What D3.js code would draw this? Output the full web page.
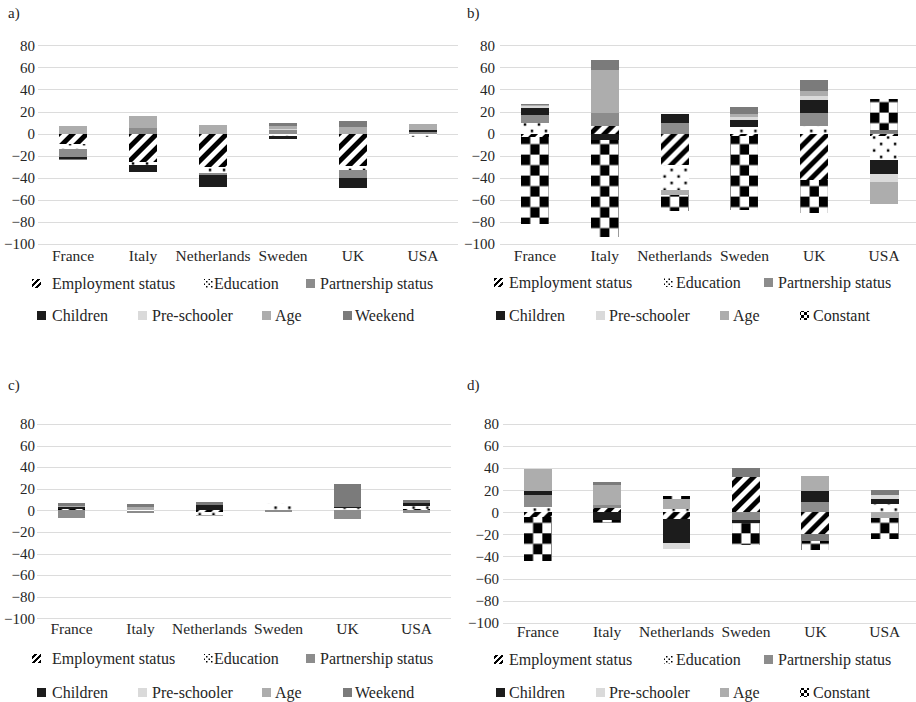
<!DOCTYPE html>
<html>
<head>
<meta charset="utf-8">
<script src="https://cdn.jsdelivr.net/npm/d3@7"></script>
<style>
  body { margin: 0; background: #fff; }
  svg text { font-family: "Liberation Serif", "Tinos", "Times New Roman", "DejaVu Serif", serif; fill: #262626; }
</style>
</head>
<body>
<script>
// categories and ticks
const countries = ["France", "Italy", "Netherlands", "Sweden", "UK", "USA"];
const yTicks = [80, 60, 40, 20, 0, -20, -40, -60, -80, -100];
const legendWeekend = ["Employment status", "Education", "Partnership status", "Children", "Pre-schooler", "Age", "Weekend"];
const legendConstant = ["Employment status", "Education", "Partnership status", "Children", "Pre-schooler", "Age", "Constant"];

// a)
const aEmployment  = [-9, -26, -30, 0, -29, 0];
const aEducation   = [-5, -2.5, -5.5, -2, -4, -3.5];
const aPartnership = [-7, 5.5, -2, 3, -7, 1.5];
const aChildren    = [-2, -6.5, -11, -3, -9, 1.5];
const aPreschooler = [0, 0, 0, 1, 0, 0];
const aAge         = [7, 10.5, 7.6, 3, 6, 6];
const aWeekend     = [-1, 0, 0, 3, 5, 0];

// b)
const bEmployment  = [-3, 7, -28, -2, -42, -2];
const bEducation   = [10, 0, -23, 6, 7, -22];
const bPartnership = [7, 12, 10, 0, 12, 1];
const bChildren    = [6, -6, 8, 6, 11, -13];
const bPreschooler = [2, 0, 0, 3, 4, -7];
const bAge         = [1, 39, -5, 3, 5, -20];
const bWeekend     = [1, 9, 0, 6, 10, 2];
const bConstant    = [-79, -88, -14, -67, -30, 28];

// c)
const cEmployment  = [1, 0, -1.5, 0, 0, 1];
const cEducation   = [0, -1, -3, 6.5, 2, 2.7];
const cPartnership = [-7, -1, 0, -1.5, -8, -2];
const cChildren    = [2, 0, 4.5, 0, 1.5, 3];
const cPreschooler = [0, 0, 0, 0.5, 0, 0];
const cAge         = [1, 3, -1, 0, 0, 0];
const cWeekend     = [3, 2.5, 3.5, 0, 21, 2.5];

// d)
const dEmployment  = [-4, 3.5, -6, 32, -20, 0];
const dEducation   = [4.5, 0, 3, 0, 0, 7.5];
const dPartnership = [11, 3, 0, -7, 9, 0];
const dChildren    = [4, -7, -22, -3, 10, 5];
const dPreschooler = [0, 0, -5, 0, 0, 3];
const dAge         = [20, 18, 9, 0, 14, -5];
const dWeekend     = [0, 3, 0, 8, -6, 4.5];
const dConstant    = [-40, -3, 2.5, -20, -8, -19];

const keys = ["emp", "edu", "part", "child", "pre", "age", "wk", "const"];
const solid = { part: "#8c8c8c", child: "#1c1c1c", pre: "#dadada", age: "#adadad", wk: "#7b7b7b" };
const legendFills = {
  emp: "url(#stripesSm)", edu: "url(#dotsSm)", part: "#8c8c8c", child: "#1c1c1c",
  pre: "#dadada", age: "#adadad", wk: "#7b7b7b", const: "url(#checkerSm)"
};
const serif = '"Liberation Serif", "Tinos", "Times New Roman", "DejaVu Serif", serif';

const panels = [
  { tag: "a)", tx: 8, ty: 18, x0: 38, x1: 458, yb: 244, yt: 45.3, tickPad: 3, catPad: 6,
    cols: { emp: aEmployment, edu: aEducation, part: aPartnership, child: aChildren, pre: aPreschooler, age: aAge, wk: aWeekend },
    legend: legendWeekend, legendKeys: ["emp", "edu", "part", "child", "pre", "age", "wk"],
    ox: 0, rows: [283, 315], textX: [52, 214, 320, 52, 152, 275, 355], swX: [32, 204, 306, 37, 138, 262, 343] },
  { tag: "b)", tx: 467, ty: 18, x0: 500, x1: 919, yb: 244, yt: 45.3, tickPad: 5, catPad: 6,
    cols: { emp: bEmployment, edu: bEducation, part: bPartnership, child: bChildren, pre: bPreschooler, age: bAge, wk: bWeekend, const: bConstant },
    legend: legendConstant, legendKeys: ["emp", "edu", "part", "child", "pre", "age", "const"],
    ox: 460, rows: [282, 315], textX: [49, 216, 318, 49, 149, 273, 353], swX: [34, 204, 304, 36, 136, 260, 340] },
  { tag: "c)", tx: 8, ty: 390, x0: 37, x1: 451, yb: 618.3, yt: 424, tickPad: 2, catPad: 5,
    cols: { emp: cEmployment, edu: cEducation, part: cPartnership, child: cChildren, pre: cPreschooler, age: cAge, wk: cWeekend },
    legend: legendWeekend, legendKeys: ["emp", "edu", "part", "child", "pre", "age", "wk"],
    ox: 0, rows: [658, 692], textX: [52, 214, 320, 52, 152, 275, 355], swX: [32, 204, 306, 37, 138, 262, 343] },
  { tag: "d)", tx: 467, ty: 390, x0: 503, x1: 919.5, yb: 622.7, yt: 424, tickPad: 4, catPad: 3.5,
    cols: { emp: dEmployment, edu: dEducation, part: dPartnership, child: dChildren, pre: dPreschooler, age: dAge, wk: dWeekend, const: dConstant },
    legend: legendConstant, legendKeys: ["emp", "edu", "part", "child", "pre", "age", "const"],
    ox: 460, rows: [659, 692], textX: [49, 216, 318, 49, 149, 273, 353], swX: [34, 204, 304, 36, 136, 260, 340] }
];

const svg = d3.select("body").append("svg")
  .attr("width", 916)
  .attr("height", 702)
  .attr("font-family", serif);

// patterns
const defs = svg.append("defs");

function pat(id, w, h, px, py) {
  const p = defs.append("pattern").attr("id", id).attr("patternUnits", "userSpaceOnUse")
    .attr("x", px || 0).attr("y", py || 0).attr("width", w).attr("height", h);
  p.append("rect").attr("width", w).attr("height", h).attr("fill", "#fff");
  return p;
}
function stripes(id, s, w, px, py) {
  const p = pat(id, s, s, px, py);
  [[-s / 2, s / 2, s / 2, -s / 2], [0, s, s, 0], [s / 2, s * 1.5, s * 1.5, s / 2]].forEach(l => {
    p.append("line").attr("x1", l[0]).attr("y1", l[1]).attr("x2", l[2]).attr("y2", l[3])
      .attr("stroke", "#000").attr("stroke-width", w).attr("shape-rendering", "crispEdges");
  });
}
function dots(id, w, h, r, px, py) {
  const p = pat(id, w, h, px, py);
  p.append("rect").attr("x", w * 0.2).attr("y", h * 0.2).attr("width", r).attr("height", r).attr("fill", "#000");
  p.append("rect").attr("x", w * 0.7).attr("y", h * 0.7).attr("width", r).attr("height", r).attr("fill", "#000");
}
function checker(id, cw, ch, px, py) {
  const p = pat(id, cw * 2, ch * 2, px, py);
  p.append("rect").attr("width", cw).attr("height", ch).attr("fill", "#000");
  p.append("rect").attr("x", cw).attr("y", ch).attr("width", cw).attr("height", ch).attr("fill", "#000");
}
stripes("stripesSm", 6, 2.5);
dots("dotsSm", 5, 5, 1.5);
checker("checkerSm", 3, 3);

panels.forEach((pn, pi) => {
  const g = svg.append("g");

  const rows = countries.map((c, i) => {
    const r = { country: c };
    keys.forEach(k => { r[k] = pn.cols[k] ? pn.cols[k][i] : 0; });
    return r;
  });

  const x = d3.scaleBand().domain(countries).range([pn.x0, pn.x1])
    .paddingInner(0.6).paddingOuter(0.3);
  const y = d3.scaleLinear().domain([-100, 80]).range([pn.yb, pn.yt]);

  // patterns aligned to each bar
  countries.forEach((c, i) => {
    const bx = x(c), bw = x.bandwidth(), by = y(0);
    stripes("emp-" + pi + "-" + i, bw / 2, 4.5, bx, by);
    dots("edu-" + pi + "-" + i, bw / 2, 13, 2.5, bx, by);
    checker("const-" + pi + "-" + i, bw / 3, 10.5, bx, by);
  });
  const fillOf = (key, country) => solid[key] ||
    "url(#" + key + "-" + pi + "-" + countries.indexOf(country) + ")";

  // gridlines
  g.selectAll(".grid").data(yTicks).enter().append("line")
    .attr("x1", pn.x0).attr("x2", pn.x1)
    .attr("y1", d => Math.round(y(d)) + 0.5).attr("y2", d => Math.round(y(d)) + 0.5)
    .attr("stroke", "#dcdcdc").attr("stroke-width", 1);

  // stacked bars
  const series = d3.stack().keys(keys).offset(d3.stackOffsetDiverging)(rows);
  g.selectAll(".layer").data(series).enter().append("g")
    .selectAll("rect").data(s => s.map(d => Object.assign(d, { key: s.key }))).enter().append("rect")
    .attr("x", d => x(d.data.country))
    .attr("width", x.bandwidth())
    .attr("y", d => y(Math.max(d[0], d[1])))
    .attr("height", d => Math.abs(y(d[0]) - y(d[1])))
    .attr("fill", d => fillOf(d.key, d.data.country))
    .attr("shape-rendering", "crispEdges");

  // y axis
  const ya = g.append("g").attr("transform", "translate(" + pn.x0 + ",0)")
    .call(d3.axisLeft(y).tickValues(yTicks).tickSize(0).tickPadding(pn.tickPad));
  ya.attr("font-family", serif).attr("font-size", 15);
  ya.select(".domain").remove();
  ya.selectAll("text").attr("fill", "#262626");

  // x axis
  const xa = g.append("g").attr("transform", "translate(0," + pn.yb + ")")
    .call(d3.axisBottom(x).tickSize(0).tickPadding(pn.catPad));
  xa.attr("font-family", serif).attr("font-size", 15.5);
  xa.select(".domain").remove();
  xa.selectAll("text").attr("fill", "#262626");

  // panel tag
  g.append("text").attr("x", pn.tx).attr("y", pn.ty).attr("font-size", 15).text(pn.tag);

  // legend
  pn.legend.forEach((name, i) => {
    const cy = i < 3 ? pn.rows[0] : pn.rows[1];
    g.append("rect")
      .attr("x", pn.ox + pn.swX[i]).attr("y", cy - 4)
      .attr("width", 9).attr("height", 9)
      .attr("fill", legendFills[pn.legendKeys[i]]);
    g.append("text")
      .attr("x", pn.ox + pn.textX[i]).attr("y", cy)
      .attr("dy", "0.35em")
      .attr("font-size", 16)
      .text(name);
  });
});
</script>
</body>
</html>
